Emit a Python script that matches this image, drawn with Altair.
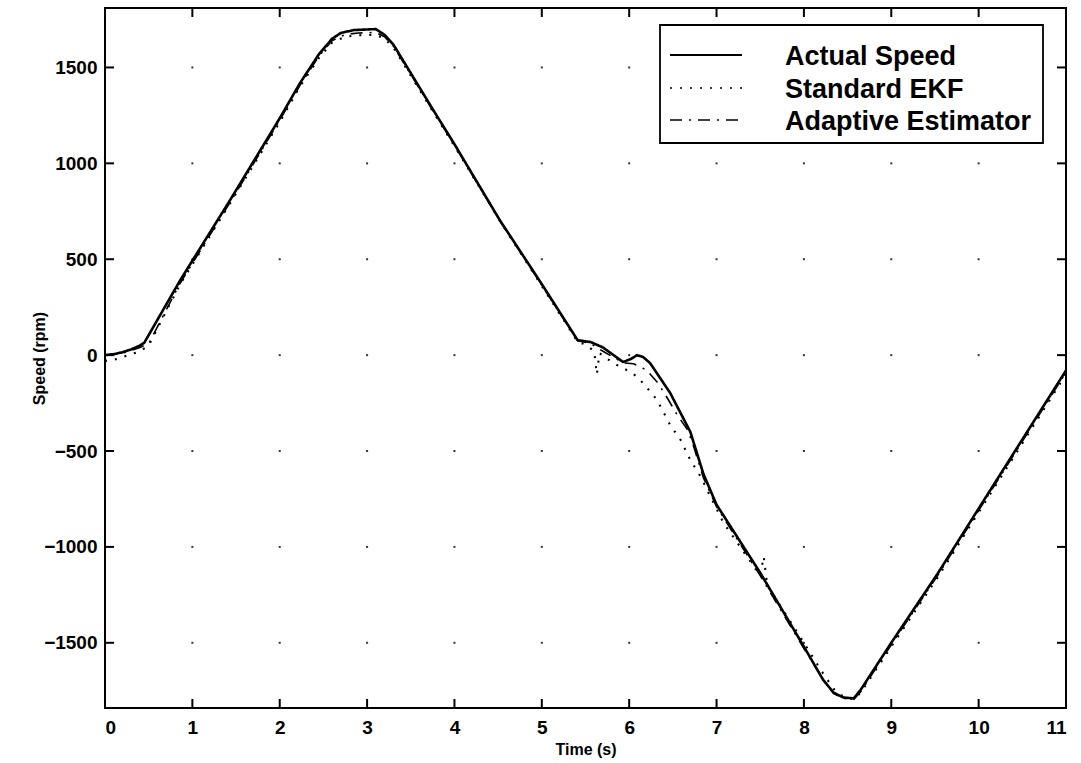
import altair as alt
import pandas as pd

series_names = ["Actual Speed", "Standard EKF", "Adaptive Estimator"]

actual_t = [0, 0.1, 0.2, 0.3, 0.4, 0.45, 0.86, 1.43, 2.0, 2.23, 2.45, 2.6, 2.7, 2.85, 3.1, 3.2, 3.3,
            3.76, 4.0, 4.52, 5.0, 5.41, 5.56, 5.7, 5.93, 6.02, 6.09, 6.16, 6.24, 6.47, 6.7, 6.85,
            7.0, 7.5, 8.0, 8.22, 8.34, 8.45, 8.57, 8.65, 9.0, 9.53, 10.0, 10.5, 11.0]
actual_v = [0, 5, 15, 30, 50, 65, 390, 807, 1235, 1417, 1570, 1650, 1680, 1695, 1700, 1670, 1620,
            1276, 1100, 703, 370, 78, 68, 40, -36, -20, 0, -10, -42, -198, -400, -620,
            -780, -1135, -1520, -1693, -1760, -1785, -1790, -1745, -1500, -1140, -800, -440, -80]

ekf_t = [0, 0.1, 0.2, 0.3, 0.4, 0.5, 0.86, 1.43, 2.0, 2.23, 2.45, 2.6, 2.75, 2.9, 3.1, 3.2, 3.3,
         3.76, 4.0, 4.52, 5.0, 5.41, 5.5, 5.6, 5.63, 5.66, 5.82, 6.04, 6.16, 6.32, 6.47, 6.59, 6.7,
         6.82, 6.91, 7.08, 7.5, 7.54, 7.58, 8.0, 8.22, 8.34, 8.45, 8.57, 8.65, 9.0, 9.53, 10.0,
         10.5, 11.0]
ekf_v = [-30, -25, -10, 5, 20, 50, 370, 790, 1215, 1400, 1550, 1630, 1660, 1668, 1670, 1650, 1605,
         1265, 1090, 700, 360, 70, 55, 20, -100, 10, -42, -94, -146, -234, -365, -443, -547,
         -635, -719, -875, -1150, -1050, -1200, -1500, -1660, -1740, -1780, -1795, -1760, -1520,
         -1160, -820, -460, -100]

ada_t = [0, 0.2, 0.4, 0.5, 0.86, 1.43, 2.0, 2.23, 2.45, 2.6, 2.75, 2.9, 3.1, 3.2, 3.3, 3.76, 4.0,
         4.52, 5.0, 5.41, 5.56, 5.7, 5.93, 6.05, 6.2, 6.33, 6.45, 6.55, 6.67, 6.74, 6.85, 7.0, 7.5,
         8.0, 8.22, 8.34, 8.45, 8.57, 8.65, 9.0, 9.53, 10.0, 10.5, 11.0]
ada_v = [0, 10, 40, 60, 375, 795, 1225, 1405, 1560, 1640, 1672, 1680, 1682, 1660, 1612, 1270, 1095,
         700, 365, 75, 60, 20, -40, -45, -78, -146, -234, -312, -390, -479, -640, -790, -1150,
         -1530, -1690, -1765, -1790, -1795, -1755, -1510, -1150, -810, -450, -90]

x_ticks = list(range(0, 12))
y_ticks = [-1500, -1000, -500, 0, 500, 1000, 1500]

dashes = [[1, 0], [2, 8], [12, 7, 2, 7]]
widths = [2.6, 1.6, 1.6]

rows = []
for name, ts, vs in [(series_names[0], actual_t, actual_v),
                     (series_names[1], ekf_t, ekf_v),
                     (series_names[2], ada_t, ada_v)]:
    for i, (t, v) in enumerate(zip(ts, vs)):
        rows.append({"series": name, "t": t, "v": v, "order": i})
df = pd.DataFrame(rows)

W, H = 961, 700
FONT = "Liberation Sans"
X_DOM = [0, 11]
Y_DOM = [-1840, 1810]
xs = alt.Scale(domain=X_DOM, nice=False, zero=False)
ys = alt.Scale(domain=Y_DOM, nice=False, zero=False)
x_axis = alt.Axis(values=x_ticks, title="Time (s)", format="d", labelPadding=10, titlePadding=4)
y_axis = alt.Axis(values=y_ticks, title="Speed (rpm)", format="d", labelPadding=8, titleX=-58)

X = alt.X("t:Q", scale=xs, axis=x_axis)
Y = alt.Y("v:Q", scale=ys, axis=y_axis)

lines = alt.Chart(df).mark_line(color="black", strokeJoin="round").encode(
    x=X, y=Y,
    strokeDash=alt.StrokeDash("series:N",
                              scale=alt.Scale(domain=series_names, range=dashes), legend=None),
    strokeWidth=alt.StrokeWidth("series:N",
                                scale=alt.Scale(domain=series_names, range=widths), legend=None),
    order="order:Q",
)

# inward tick marks as segments (x, y) -> (x2, y2); length 9 px in data units
TICK_PX = 9
dy = (Y_DOM[1] - Y_DOM[0]) * TICK_PX / H
dx = (X_DOM[1] - X_DOM[0]) * TICK_PX / W
seg = []
for t in x_ticks[1:-1]:
    seg.append({"t": t, "t2": t, "v": Y_DOM[0], "v2": Y_DOM[0] + dy})
    seg.append({"t": t, "t2": t, "v": Y_DOM[1], "v2": Y_DOM[1] - dy})
for v in y_ticks:
    seg.append({"t": X_DOM[0], "t2": X_DOM[0] + dx, "v": v, "v2": v})
    seg.append({"t": X_DOM[1], "t2": X_DOM[1] - dx, "v": v, "v2": v})
seg_df = pd.DataFrame(seg)
ticks = alt.Chart(seg_df).mark_rule(color="black", strokeWidth=2, strokeCap="butt").encode(
    x=X, x2=alt.X2("t2"), y=Y, y2=alt.Y2("v2"))

grid = pd.DataFrame([{"t": t, "v": v} for t in x_ticks[1:-1] for v in y_ticks])
dots = alt.Chart(grid).mark_square(size=4, color="black", opacity=0.8).encode(x=X, y=Y)

# legend box (drawn by hand so the rows stay compact)
one = pd.DataFrame({"k": [0]})
box = alt.Chart(one).mark_rect(fill="white", stroke="black", strokeWidth=1.8).encode(
    x=alt.value(555), x2=alt.value(938), y=alt.value(17), y2=alt.value(135))
legend_layers = [box]
row_y = [47, 80, 112]
for name, dash, wdt, ry in zip(series_names, dashes, widths, row_y):
    d = pd.DataFrame({"label": [name]})
    legend_layers.append(
        alt.Chart(d).mark_rule(color="black", strokeWidth=wdt if wdt < 2 else 2.2,
                               strokeDash=dash).encode(
            x=alt.value(565), x2=alt.value(637), y=alt.value(ry)))
    legend_layers.append(
        alt.Chart(d).mark_text(align="left", baseline="middle", font=FONT, fontSize=27,
                               fontWeight="bold", color="black").encode(
            x=alt.value(680), y=alt.value(ry + 2), text="label:N"))

chart = alt.layer(dots, lines, ticks, *legend_layers).properties(
    width=W, height=H,
    autosize=alt.AutoSizeParams(type="none"),
    padding={"left": 105, "top": 8, "right": 15, "bottom": 55},
    background="white",
).configure_view(stroke="black", strokeWidth=2).configure_axis(
    grid=False, domain=False, ticks=False,
    labelFont=FONT, labelFontSize=19, labelFontWeight="bold", labelColor="black",
    titleFont=FONT, titleFontSize=16, titleFontWeight="bold", titleColor="black",
)

chart.save("out.html", embed_options={"renderer": "svg", "actions": False})
